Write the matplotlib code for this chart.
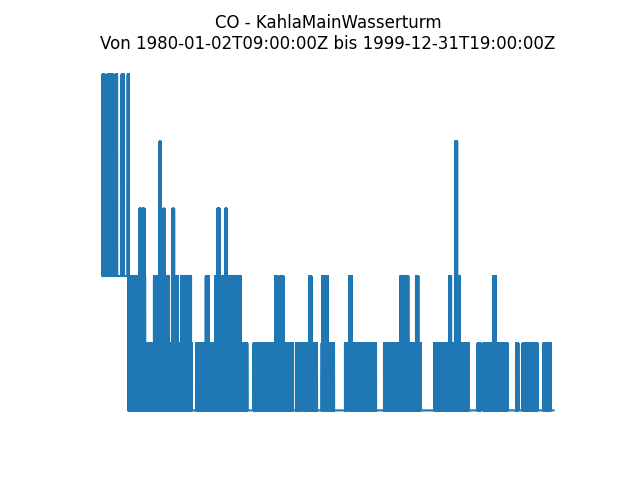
import numpy as np
import pandas as pd
import matplotlib
matplotlib.use("Agg")
import matplotlib.pyplot as plt

station = "KahlaMainWasserturm"
start = "1980-01-02T09:00:00Z"
end = "1999-12-31T19:00:00Z"

# first period: readings sit at 2 with bursts up to 5 (decimal years)
early_end = 1981.14
early_base = 2
early_bursts = [(1980.00, 1980.09), (1980.22, 1980.33), (1980.37, 1980.46),
                (1980.58, 1980.65), (1980.85, 1980.95), (1981.12, 1981.17)]
early_peak = 5

# periods with dense readings flickering between 0 and 1
blocks = [(1981.14, 1983.96), (1984.15, 1986.28), (1986.35, 1986.42),
          (1986.70, 1988.44), (1988.58, 1988.68), (1988.74, 1988.83),
          (1988.91, 1989.51), (1989.72, 1990.09), (1990.13, 1990.27),
          (1990.75, 1990.83), (1990.93, 1991.98), (1992.04, 1992.13),
          (1992.48, 1992.72), (1992.78, 1993.61), (1993.68, 1994.12),
          (1994.71, 1994.82), (1994.87, 1995.41), (1995.49, 1996.08),
          (1996.12, 1996.25), (1996.64, 1996.77), (1996.89, 1997.96),
          (1998.34, 1998.44), (1998.63, 1999.29), (1999.55, 1999.67),
          (1999.73, 1999.88)]

# higher readings: (from, to, level)
peaks = [(1981.14, 1981.53, 2), (1981.57, 1981.89, 2), (1981.62, 1981.71, 3),
         (1981.75, 1981.86, 3), (1982.28, 1982.64, 2), (1982.53, 1982.58, 4),
         (1982.68, 1982.77, 2), (1982.70, 1982.75, 3), (1982.86, 1982.95, 2),
         (1983.08, 1983.35, 2), (1983.10, 1983.18, 3), (1983.48, 1983.75, 2),
         (1983.79, 1983.93, 2), (1984.58, 1984.72, 2), (1984.99, 1985.21, 2),
         (1985.08, 1985.20, 3), (1985.30, 1985.79, 2), (1985.43, 1985.52, 3),
         (1985.88, 1986.13, 2), (1987.65, 1987.74, 2), (1987.85, 1988.02, 2),
         (1989.17, 1989.26, 2), (1989.75, 1989.84, 2), (1989.90, 1989.99, 2),
         (1990.93, 1991.05, 2), (1993.21, 1993.37, 2), (1993.46, 1993.56, 2),
         (1993.90, 1994.00, 2), (1995.37, 1995.46, 2), (1995.63, 1995.73, 4),
         (1995.73, 1995.85, 2), (1997.33, 1997.44, 2)]

t = pd.date_range(pd.Timestamp(start).tz_localize(None),
                  pd.Timestamp(end).tz_localize(None), freq="D")
t = t.append(pd.DatetimeIndex([pd.Timestamp(end).tz_localize(None)]))
yr = t.year + (t.dayofyear - 1) / 365.25
odd = (np.arange(len(t)) % 2) == 1
values = np.zeros(len(t))

values[yr < early_end] = early_base
for a, b in early_bursts:
    m = (yr >= a) & (yr <= b) & odd
    values[m] = early_peak
for a, b in blocks:
    m = (yr >= a) & (yr <= b) & odd
    values[m] = np.maximum(values[m], 1)
for a, b, lvl in peaks:
    m = (yr >= a) & (yr <= b) & odd
    values[m] = np.maximum(values[m], lvl)

fig, ax = plt.subplots(figsize=(6.4, 4.8), dpi=100)
ax.plot(t, values, color="#1f77b4")
ax.set_title("CO - " + station + "\nVon " + start + " bis " + end)
ax.axis("off")
fig.savefig("out.png")
